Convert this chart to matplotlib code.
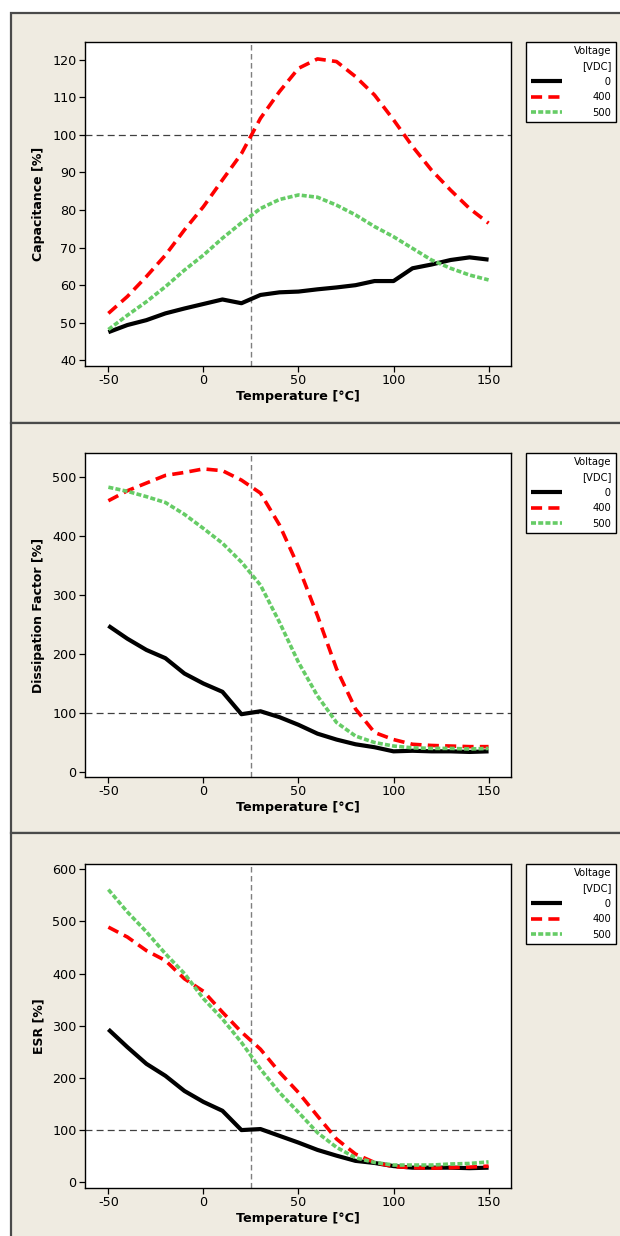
import numpy as np
import matplotlib
matplotlib.use("Agg")
import matplotlib.pyplot as plt
from matplotlib.patches import Rectangle

# данные
temps = [-50, -40, -30, -20, -10, 0, 10, 20, 30, 40, 50, 60, 70, 80, 90, 100, 110, 120, 130, 140, 150]
volt_labels = ["0", "400", "500"]

cap_0 = [47.5, 49.4, 50.7, 52.5, 53.8, 55.0, 56.2, 55.2, 57.4, 58.1, 58.3, 58.9, 59.4, 60.0, 61.1, 61.1, 64.5, 65.5, 66.7, 67.4, 66.8]
cap_400 = [52.5, 57.0, 62.3, 68.0, 74.7, 80.9, 88.0, 95.0, 104.4, 111.5, 117.7, 120.2, 119.5, 115.5, 110.6, 104.0, 96.9, 90.6, 85.3, 80.4, 76.5]
cap_500 = [48.2, 52.0, 55.6, 59.6, 64.0, 68.0, 72.5, 76.6, 80.4, 82.8, 84.0, 83.4, 81.3, 78.7, 75.6, 72.9, 69.8, 66.7, 64.5, 62.7, 61.4]

df_0 = [248, 226, 207, 193, 167, 150, 136, 98, 103, 93, 80, 65, 55, 47, 42, 35, 36, 35, 35, 34, 35]
df_400 = [460, 477, 490, 503, 508, 514, 511, 495, 473, 419, 348, 265, 175, 107, 67, 55, 47, 45, 44, 43, 43]
df_500 = [483, 476, 467, 457, 437, 413, 388, 356, 317, 254, 186, 129, 84, 61, 50, 44, 41, 40, 40, 39, 40]

esr_0 = [293, 259, 227, 204, 175, 154, 137, 100, 102, 89, 76, 62, 51, 41, 37, 31, 28, 28, 28, 27, 28]
esr_400 = [489, 470, 444, 425, 390, 366, 326, 288, 255, 211, 172, 127, 83, 54, 38, 30, 28, 27, 28, 29, 31]
esr_500 = [561, 518, 480, 438, 400, 352, 313, 268, 217, 172, 134, 95, 67, 47, 38, 33, 33, 33, 35, 36, 39]

panels = [
    ("Capacitance [%]", [cap_0, cap_400, cap_500], (38.5, 124.7), [40, 50, 60, 70, 80, 90, 100, 110, 120]),
    ("Dissipation Factor [%]", [df_0, df_400, df_500], (-8.5, 541), [0, 100, 200, 300, 400, 500]),
    ("ESR [%]", [esr_0, esr_400, esr_500], (-11, 610), [0, 100, 200, 300, 400, 500, 600]),
]

W, H = 620, 1236
beige = "#efebe1"
plt.rcParams['font.family'] = ['DejaVu Sans']
plt.rcParams['lines.scale_dashes'] = False
plt.rcParams['axes.unicode_minus'] = False

fig = plt.figure(figsize=(W / 100, H / 100), dpi=100)
fig.patch.set_facecolor("white")

# фон панелей (пиксели сверху вниз)
panel_y = [(13, 423), (423, 833), (833, 1240)]
for y0, y1 in panel_y:
    fig.add_artist(Rectangle((11 / W, 1 - y1 / H), (W + 20 - 11) / W, (y1 - y0) / H,
                             transform=fig.transFigure, facecolor=beige,
                             edgecolor="#4a4a4a", linewidth=1.6, zorder=-5))

ax_tops = [42, 453, 864]
ax_h = 324
styles = [
    dict(color="black", lw=3.0, solid_capstyle="butt"),
    dict(color="#ff0000", lw=2.6, dashes=(8, 4.5)),
    dict(color="#66cc66", lw=2.6, dashes=(3.6, 1.6)),
]

for (ylabel, series, ylim, yticks), top in zip(panels, ax_tops):
    ax = fig.add_axes([85 / W, 1 - (top + ax_h) / H, 426 / W, ax_h / H])
    ax.set_facecolor("white")
    ax.axvline(25, color="#7f7f7f", lw=1.0, dashes=(4, 2.5), zorder=1)
    ax.axhline(100, color="#404040", lw=0.9, dashes=(5, 3), zorder=1)
    handles = []
    for vals, st in zip(series, styles):
        ln, = ax.plot(temps, vals, zorder=3, **st)
        handles.append(ln)
    ax.set_xlim(-62.3, 161.8)
    ax.set_ylim(*ylim)
    ax.set_xticks([-50, 0, 50, 100, 150])
    ax.set_yticks(yticks)
    ax.tick_params(direction="out", length=4, width=0.9, labelsize=9.2, pad=2)
    for s in ax.spines.values():
        s.set_linewidth(1.0)
    ax.set_xlabel("Temperature [°C]", fontsize=9.2, fontweight="bold", labelpad=2)
    ax.set_ylabel(ylabel, fontsize=9.0, fontweight="bold", labelpad=5)

    labs = ["\u2007\u2007" + volt_labels[0], volt_labels[1], volt_labels[2]]
    leg = fig.legend(handles, labs, title="Voltage\n[VDC]", loc="upper left",
                     bbox_to_anchor=(526 / W, 1 - top / H), borderaxespad=0,
                     fontsize=7.2, title_fontsize=7.2, alignment="right",
                     frameon=True, fancybox=False, edgecolor="black", framealpha=1,
                     handlelength=3.1, handletextpad=3.1, labelspacing=0.55,
                     borderpad=0.45)
    leg.get_frame().set_linewidth(1.0)
    leg.get_title().set_multialignment("right")
    leg.get_title().set_linespacing(1.6)

fig.savefig("out.png", dpi=100, facecolor=fig.get_facecolor())
